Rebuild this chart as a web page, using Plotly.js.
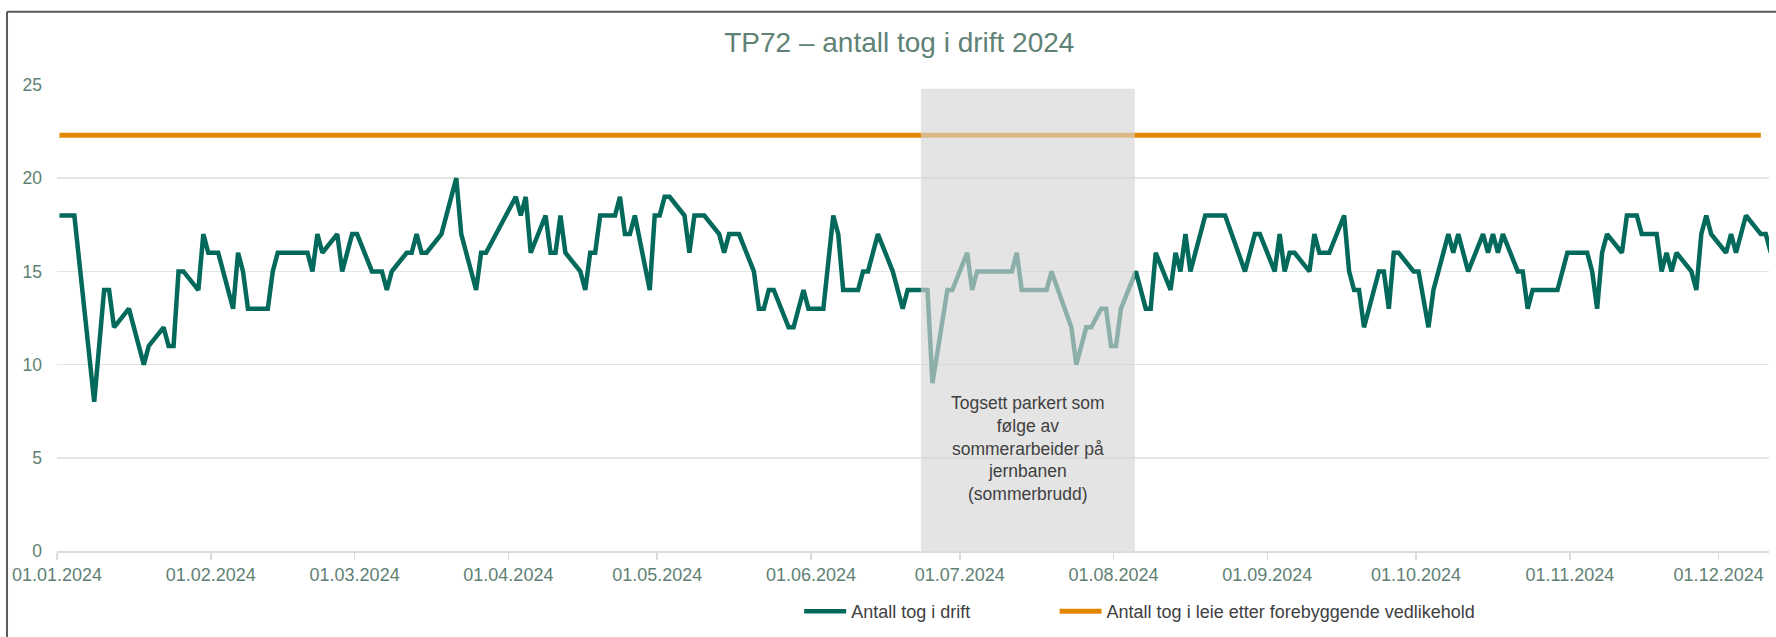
<!DOCTYPE html>
<html>
<head>
<meta charset="utf-8">
<script src="https://cdn.plot.ly/plotly-3.0.1.min.js"></script>
<style>
  html, body { margin: 0; padding: 0; background: #ffffff; }
  #chart { width: 1776px; height: 637px; }
</style>
</head>
<body>
<div id="chart"></div>
<script>
// ---- Data ----
const titleText = 'TP72 – antall tog i drift 2024';
const seriesName = 'Antall tog i drift';
const targetName = 'Antall tog i leie etter forebyggende vedlikehold';

const driftDates = [
  '2024-01-01','2024-01-04','2024-01-08','2024-01-10','2024-01-11','2024-01-12','2024-01-15','2024-01-18','2024-01-19','2024-01-22',
  '2024-01-23','2024-01-24','2024-01-25','2024-01-26','2024-01-29','2024-01-30','2024-01-31','2024-02-02','2024-02-05','2024-02-06',
  '2024-02-07','2024-02-08','2024-02-12','2024-02-13','2024-02-14','2024-02-20','2024-02-21','2024-02-22','2024-02-23','2024-02-26',
  '2024-02-27','2024-02-29','2024-03-01','2024-03-04','2024-03-06','2024-03-07','2024-03-08','2024-03-11','2024-03-12','2024-03-13',
  '2024-03-14','2024-03-15','2024-03-18','2024-03-21','2024-03-22','2024-03-25','2024-03-26','2024-03-27','2024-04-02','2024-04-03',
  '2024-04-04','2024-04-05','2024-04-08','2024-04-09','2024-04-10','2024-04-11','2024-04-12','2024-04-15','2024-04-16','2024-04-17',
  '2024-04-18','2024-04-19','2024-04-22','2024-04-23','2024-04-24','2024-04-25','2024-04-26','2024-04-29','2024-04-30','2024-05-01',
  '2024-05-02','2024-05-03','2024-05-06','2024-05-07','2024-05-08','2024-05-10','2024-05-13','2024-05-14','2024-05-15','2024-05-17',
  '2024-05-20','2024-05-21','2024-05-22','2024-05-23','2024-05-24','2024-05-27','2024-05-28','2024-05-30','2024-05-31','2024-06-03',
  '2024-06-05','2024-06-06','2024-06-07','2024-06-10','2024-06-11','2024-06-12','2024-06-14','2024-06-17','2024-06-19','2024-06-20',
  '2024-06-24','2024-06-25','2024-06-28','2024-06-29','2024-07-02','2024-07-03','2024-07-04','2024-07-11','2024-07-12','2024-07-13',
  '2024-07-18','2024-07-19','2024-07-23','2024-07-24','2024-07-26','2024-07-27','2024-07-29','2024-07-30','2024-07-31','2024-08-01',
  '2024-08-02','2024-08-05','2024-08-07','2024-08-08','2024-08-09','2024-08-12','2024-08-13','2024-08-14','2024-08-15','2024-08-16',
  '2024-08-19','2024-08-23','2024-08-27','2024-08-29','2024-08-30','2024-09-02','2024-09-03','2024-09-04','2024-09-05','2024-09-06',
  '2024-09-09','2024-09-10','2024-09-11','2024-09-13','2024-09-16','2024-09-17','2024-09-18','2024-09-19','2024-09-20','2024-09-23',
  '2024-09-24','2024-09-25','2024-09-26','2024-09-27','2024-09-30','2024-10-01','2024-10-03','2024-10-04','2024-10-07','2024-10-08',
  '2024-10-09','2024-10-11','2024-10-14','2024-10-15','2024-10-16','2024-10-17','2024-10-18','2024-10-21','2024-10-22','2024-10-23',
  '2024-10-24','2024-10-29','2024-10-31','2024-11-04','2024-11-05','2024-11-06','2024-11-07','2024-11-08','2024-11-11','2024-11-12',
  '2024-11-14','2024-11-15','2024-11-18','2024-11-19','2024-11-20','2024-11-21','2024-11-22','2024-11-25','2024-11-26','2024-11-27',
  '2024-11-28','2024-11-29','2024-12-02','2024-12-03','2024-12-04','2024-12-06','2024-12-09','2024-12-10','2024-12-11'
];
const driftValues = [
  18,18,8,14,14,12,13,10,11,12,
  11,11,15,15,14,17,16,16,13,16,
  15,13,13,15,16,16,15,17,16,17,
  15,17,17,15,15,14,15,16,16,17,
  16,16,17,20,17,14,16,16,19,18,
  19,16,18,16,16,18,16,15,14,16,
  16,18,18,19,17,17,18,14,18,18,
  19,19,18,16,18,18,17,16,17,17,
  15,13,13,14,14,12,12,14,13,13,
  18,17,14,14,15,15,17,15,13,14,
  14,9,14,14,16,14,15,15,16,14,
  14,15,12,10,12,12,13,13,11,11,
  13,15,13,13,16,14,16,15,17,15,
  18,18,15,17,17,15,17,15,16,16,
  15,17,16,16,18,15,14,14,12,15,
  15,13,16,16,15,15,12,14,17,16,
  17,15,17,16,17,16,17,15,15,13,
  14,14,16,16,15,13,16,17,16,18,
  18,17,17,15,16,15,16,15,14,17,
  18,17,16,17,16,18,17,17,16
];

const targetDates = ['2024-01-01', '2024-12-09'];
const targetValues = [22.3, 22.3];

// Summer closure period (shaded) and its note
const shadeStart = '2024-06-23 04:00';
const shadeEnd = '2024-08-05 07:00';
const shadeTop = 24.8;
const noteText = 'Togsett parkert som<br>følge av<br>sommerarbeider på<br>jernbanen<br>(sommerbrudd)';
const noteY = 5.5;

const yTicks = [0, 5, 10, 15, 20, 25];
const xRange = ['2024-01-01', '2024-12-11 03:36'];

// ---- Styling ----
const FONT = 'Arial, "Liberation Sans", sans-serif';
const axisTextColor = '#5f7f74';
const green = '#03695b';
const orange = '#e38600';

const mid = new Date((new Date(shadeStart.replace(' ', 'T') + 'Z').getTime() + new Date(shadeEnd.replace(' ', 'T') + 'Z').getTime()) / 2);
const noteX = mid.toISOString().slice(0, 19).replace('T', ' ');

const traces = [
  {
    type: 'scatter', mode: 'lines', name: seriesName,
    x: driftDates, y: driftValues,
    xperiod: 86400000, xperiodalignment: 'middle',
    line: { color: green, width: 4.5 },
    hoverinfo: 'x+y',
    legend: 'legend'
  },
  {
    type: 'scatter', mode: 'lines', name: targetName,
    x: targetDates, y: targetValues,
    xperiod: 86400000, xperiodalignment: 'middle',
    line: { color: orange, width: 5 },
    hoverinfo: 'x+y',
    legend: 'legend2'
  }
];

const layout = {
  width: 1776, height: 637,
  paper_bgcolor: '#ffffff', plot_bgcolor: '#ffffff',
  margin: { l: 57, r: 7, t: 85, b: 84 },
  font: { family: FONT, color: '#404040' },
  title: {
    text: titleText,
    font: { family: FONT, size: 28, color: '#5f8276' },
    xref: 'paper', x: 0.492, xanchor: 'center',
    yref: 'container', y: 0.933, yanchor: 'middle'
  },
  showlegend: true,
  legend: {
    orientation: 'h', x: 0.4335, xanchor: 'left', y: -0.13, yanchor: 'middle',
    itemwidth: 42,
    font: { family: FONT, size: 18, color: '#404040' }, bgcolor: 'rgba(0,0,0,0)'
  },
  legend2: {
    orientation: 'h', x: 0.5827, xanchor: 'left', y: -0.13, yanchor: 'middle',
    itemwidth: 42,
    font: { family: FONT, size: 18, color: '#404040' }, bgcolor: 'rgba(0,0,0,0)'
  },
  xaxis: {
    type: 'date', range: xRange,
    tick0: '2024-01-01', dtick: 'M1', tickformat: '%d.%m.%Y',
    ticks: 'outside', ticklen: 7, tickwidth: 1.5, tickcolor: '#d9dedc',
    showgrid: false, zeroline: false,
    showline: true, linecolor: '#d9dedc', linewidth: 1.5,
    tickfont: { family: FONT, size: 18, color: axisTextColor },
    fixedrange: true
  },
  yaxis: {
    range: [0, 25], tickvals: yTicks,
    showgrid: true, gridcolor: '#dfe6e3', gridwidth: 1.5,
    zeroline: false, showline: false, ticks: '',
    ticklabelstandoff: 14,
    tickfont: { family: FONT, size: 17.5, color: axisTextColor },
    fixedrange: true
  },
  shapes: [
    {
      type: 'rect', layer: 'above', xref: 'x', yref: 'y',
      x0: shadeStart, x1: shadeEnd, y0: 0, y1: shadeTop,
      fillcolor: 'rgba(213,213,213,0.65)', line: { width: 0 }
    },
    { type: 'line', xref: 'paper', yref: 'paper', x0: -0.0292, x1: -0.0292, y0: -1, y1: 1.157,
      line: { color: '#5a5a5a', width: 2 } },
    { type: 'line', xref: 'paper', yref: 'paper', x0: -0.0292, x1: 1.2, y0: 1.157, y1: 1.157,
      line: { color: '#5a5a5a', width: 2 } }
  ],
  annotations: [
    {
      xref: 'x', yref: 'y', x: noteX, y: noteY,
      text: noteText, showarrow: false, align: 'center',
      xanchor: 'center', yanchor: 'middle',
      font: { family: FONT, size: 17.5, color: '#404040' }
    }
  ]
};

Plotly.newPlot('chart', traces, layout, { displayModeBar: false, staticPlot: true });
</script>
</body>
</html>
